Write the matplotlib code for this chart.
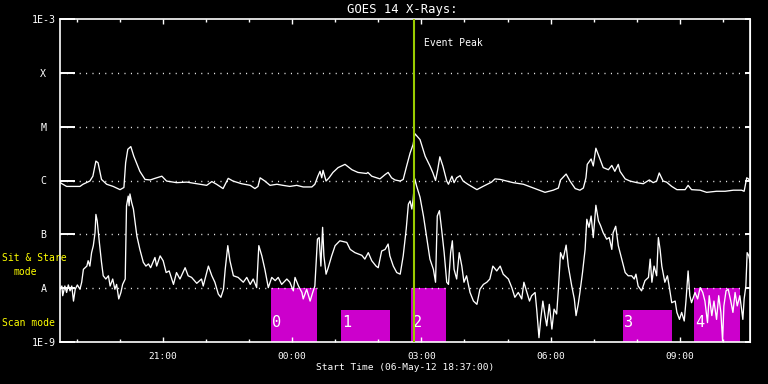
import numpy as np
import matplotlib
matplotlib.use("Agg")
import matplotlib.pyplot as plt

plt.rcParams['lines.scale_dashes'] = False
plt.rcParams['font.family'] = ['DejaVu Sans Mono']

# ---- data (hours relative to 00:00 on 07-May-12; log10 flux in W/m^2) ----
long_t = [-5.38, -5.23, -4.92, -4.85, -4.69, -4.62, -4.55, -4.50, -4.42, -4.30, -4.15, -3.99, -3.90,
          -3.86, -3.81, -3.74, -3.67, -3.53, -3.41, -3.29, -3.18, -3.02, -2.91, -2.68, -2.44, -2.21,
          -1.98, -1.86, -1.75, -1.60, -1.48, -1.37, -1.17, -0.97, -0.86, -0.79, -0.74, -0.63, -0.51,
          -0.35, -0.21, -0.05, 0.11, 0.26, 0.46, 0.53, 0.60, 0.65, 0.69, 0.72, 0.79, 0.86, 0.95, 1.07,
          1.23, 1.39, 1.53, 1.73, 1.76, 1.85, 2.04, 2.16, 2.23, 2.31, 2.39, 2.51, 2.58, 2.66, 2.74,
          2.81, 2.85, 2.97, 3.09, 3.20, 3.27, 3.33, 3.38, 3.43, 3.50, 3.59, 3.63, 3.71, 3.76, 3.82,
          3.90, 3.97, 4.08, 4.29, 4.43, 4.63, 4.71, 4.83, 4.98, 5.13, 5.37, 5.60, 5.87, 6.06, 6.18,
          6.23, 6.36, 6.45, 6.57, 6.68, 6.76, 6.82, 6.85, 6.94, 6.99, 7.05, 7.13, 7.22, 7.34, 7.42,
          7.49, 7.57, 7.61, 7.73, 7.84, 8.00, 8.15, 8.29, 8.38, 8.46, 8.52, 8.61, 8.69, 8.81, 8.93,
          9.12, 9.19, 9.27, 9.47, 9.62, 9.85, 10.05, 10.24, 10.43, 10.49, 10.55, 10.59, 10.63]
long_log = [-6.04, -6.11, -6.11, -6.07, -6.01, -5.92, -5.64, -5.67, -5.98, -6.07, -6.11, -6.17, -6.13,
            -5.67, -5.42, -5.37, -5.55, -5.83, -5.98, -5.99, -5.96, -5.92, -6.01, -6.04, -6.03, -6.06,
            -6.09, -6.02, -6.07, -6.15, -5.96, -6.01, -6.06, -6.09, -6.15, -6.11, -5.95, -6.01, -6.09,
            -6.07, -6.09, -6.11, -6.09, -6.12, -6.12, -6.07, -5.92, -5.83, -5.95, -5.81, -6.01, -5.95,
            -5.85, -5.76, -5.70, -5.80, -5.85, -5.87, -5.85, -5.92, -5.97, -5.89, -5.85, -5.95, -5.99,
            -6.01, -5.98, -5.73, -5.49, -5.33, -5.13, -5.24, -5.55, -5.73, -5.86, -6.00, -5.80, -5.56,
            -5.73, -6.01, -6.07, -5.92, -6.04, -5.95, -5.91, -6.01, -6.07, -6.17, -6.11, -6.03, -5.97,
            -5.98, -6.01, -6.04, -6.07, -6.14, -6.22, -6.18, -6.14, -5.99, -5.88, -6.01, -6.15, -6.18,
            -6.14, -5.95, -5.70, -5.60, -5.73, -5.40, -5.57, -5.76, -5.80, -5.72, -5.83, -5.70, -5.83,
            -5.97, -6.01, -6.04, -6.06, -5.99, -6.04, -6.01, -5.86, -6.01, -6.03, -6.11, -6.17, -6.17,
            -6.09, -6.17, -6.18, -6.22, -6.20, -6.20, -6.18, -6.18, -6.20, -5.95, -5.97, -6.01]

short_t = [-5.38, -5.34, -5.32, -5.27, -5.23, -5.19, -5.15, -5.11, -5.07, -5.03, -4.98, -4.92, -4.88,
           -4.84, -4.76, -4.73, -4.69, -4.65, -4.61, -4.57, -4.55, -4.52, -4.47, -4.42, -4.38, -4.32,
           -4.26, -4.22, -4.16, -4.11, -4.07, -4.02, -3.97, -3.93, -3.87, -3.84, -3.80, -3.78, -3.76,
           -3.72, -3.68, -3.60, -3.53, -3.45, -3.39, -3.33, -3.28, -3.18, -3.14, -3.06, -2.99, -2.92,
           -2.85, -2.75, -2.68, -2.60, -2.48, -2.41, -2.33, -2.21, -2.10, -2.06, -1.94, -1.86, -1.79,
           -1.71, -1.65, -1.59, -1.55, -1.49, -1.44, -1.36, -1.25, -1.13, -1.05, -0.97, -0.90, -0.82,
           -0.77, -0.70, -0.63, -0.55, -0.47, -0.39, -0.32, -0.24, -0.12, -0.05, 0.03, 0.07, 0.15,
           0.23, 0.26, 0.34, 0.42, 0.48, 0.53, 0.59, 0.63, 0.67, 0.71, 0.74, 0.79, 0.84, 0.92, 1.00,
           1.11, 1.27, 1.35, 1.46, 1.62, 1.69, 1.77, 1.85, 1.95, 2.00, 2.08, 2.16, 2.23, 2.27, 2.35,
           2.43, 2.51, 2.58, 2.65, 2.70, 2.74, 2.78, 2.81, 2.85, 2.89, 2.97, 3.05, 3.13, 3.20, 3.28,
           3.33, 3.37, 3.42, 3.47, 3.53, 3.59, 3.63, 3.68, 3.72, 3.76, 3.82, 3.88, 3.94, 3.99, 4.05,
           4.13, 4.21, 4.29, 4.36, 4.44, 4.52, 4.59, 4.66, 4.75, 4.83, 4.90, 5.02, 5.10, 5.17, 5.25,
           5.33, 5.38, 5.45, 5.51, 5.56, 5.64, 5.68, 5.73, 5.77, 5.82, 5.87, 5.91, 5.97, 6.03, 6.08,
           6.14, 6.18, 6.23, 6.29, 6.36, 6.41, 6.49, 6.55, 6.59, 6.64, 6.68, 6.74, 6.80, 6.84, 6.89,
           6.94, 6.99, 7.05, 7.11, 7.16, 7.22, 7.30, 7.36, 7.42, 7.45, 7.51, 7.57, 7.65, 7.73, 7.80,
           7.88, 7.94, 7.98, 8.03, 8.11, 8.19, 8.27, 8.31, 8.35, 8.40, 8.46, 8.50, 8.54, 8.58, 8.65,
           8.71, 8.75, 8.81, 8.89, 8.93, 8.99, 9.04, 9.10, 9.14, 9.19, 9.23, 9.27, 9.35, 9.41, 9.47,
           9.53, 9.58, 9.64, 9.68, 9.74, 9.79, 9.85, 9.90, 9.95, 9.99, 10.02, 10.07, 10.12, 10.18,
           10.23, 10.28, 10.33, 10.39, 10.46, 10.49, 10.53, 10.56, 10.60, 10.63]
short_log = [-8.02, -7.96, -8.14, -7.96, -8.08, -7.94, -8.05, -7.96, -8.24, -8.02, -7.94, -8.02, -7.89,
             -7.65, -7.59, -7.49, -7.59, -7.34, -7.21, -6.97, -6.63, -6.75, -7.15, -7.52, -7.77, -7.83,
             -7.77, -7.96, -7.83, -8.02, -7.93, -8.20, -8.08, -7.93, -7.83, -6.47, -6.29, -6.47, -6.25,
             -6.41, -6.53, -7.03, -7.28, -7.52, -7.59, -7.55, -7.62, -7.43, -7.59, -7.40, -7.49, -7.71,
             -7.68, -7.93, -7.71, -7.83, -7.62, -7.77, -7.80, -7.91, -7.83, -7.96, -7.59, -7.77, -7.89,
             -8.11, -8.17, -8.02, -7.65, -7.21, -7.49, -7.77, -7.80, -7.89, -7.80, -7.93, -7.83, -7.99,
             -7.21, -7.40, -7.65, -7.99, -7.80, -7.86, -7.80, -7.93, -7.83, -7.89, -8.05, -7.80, -7.96,
             -8.08, -8.20, -8.02, -8.24, -8.08, -7.96, -7.09, -7.06, -7.59, -6.87, -7.40, -7.74, -7.62,
             -7.40, -7.21, -7.12, -7.15, -7.28, -7.34, -7.39, -7.46, -7.34, -7.49, -7.59, -7.62, -7.31,
             -7.28, -7.18, -7.40, -7.59, -7.71, -7.74, -7.40, -6.90, -6.44, -6.38, -6.53, -6.35, -5.97,
             -6.10, -6.31, -6.66, -7.09, -7.46, -7.65, -7.89, -6.66, -6.56, -6.90, -7.34, -7.89, -7.93,
             -7.34, -7.12, -7.65, -7.83, -7.34, -7.59, -7.89, -7.77, -8.08, -8.24, -8.30, -8.02, -7.93,
             -7.89, -7.83, -7.59, -7.68, -7.59, -7.74, -7.83, -7.99, -8.17, -8.08, -8.20, -7.89, -8.08,
             -8.24, -8.14, -8.08, -8.42, -8.92, -8.58, -8.24, -8.51, -8.70, -8.30, -8.76, -8.39, -8.48,
             -8.02, -7.34, -7.46, -7.20, -7.59, -7.96, -8.20, -8.51, -8.30, -8.08, -7.71, -7.28, -6.72,
             -6.87, -6.66, -7.06, -6.46, -6.75, -6.84, -6.97, -7.09, -7.06, -7.28, -6.97, -6.85, -7.21,
             -7.46, -7.71, -7.77, -7.77, -7.83, -7.74, -7.96, -8.05, -7.86, -7.80, -7.46, -7.89, -7.59,
             -7.77, -7.06, -7.28, -7.59, -7.89, -7.77, -7.96, -8.27, -8.24, -8.45, -8.58, -8.45, -8.61,
             -8.24, -7.68, -8.14, -8.27, -8.08, -8.20, -7.99, -8.08, -8.24, -8.64, -8.14, -8.51, -8.24,
             -8.58, -8.14, -8.45, -8.98, -8.33, -8.05, -8.02, -8.24, -8.45, -8.08, -8.33, -8.14, -8.58,
             -8.20, -7.96, -7.34, -7.40, -7.52]

# observing-mode intervals (hours), label, top flux
mode_start = [-0.49, 1.14, 2.77, 7.68, 9.33]
mode_end = [0.57, 2.27, 3.57, 8.81, 10.39]
mode_label = ["0", "1", "2", "3", "4"]
mode_top = [1e-8, 3.9e-9, 1e-8, 3.9e-9, 1e-8]

event_peak = 2.83
x_start, x_end = -5.383, 10.626
level_vals = [1e-9, 1e-8, 1e-7, 1e-6, 1e-5, 1e-4, 1e-3]
level_labels = ["1E-9", "A", "B", "C", "M", "X", "1E-3"]
time_ticks = [-3, 0, 3, 6, 9]
time_labels = ["21:00", "00:00", "03:00", "06:00", "09:00"]

PX = 72 / 100.0  # points per pixel at dpi=100

fig = plt.figure(figsize=(7.68, 3.84), dpi=100, facecolor="black")
ax = fig.add_axes([60 / 768, 42 / 384, 690 / 768, 323 / 384], facecolor="black")
ax.set_yscale("log")
ax.set_xlim(x_start, x_end)
ax.set_ylim(1e-9, 1e-3)

# mode bars
for s, e, lab, top in zip(mode_start, mode_end, mode_label, mode_top):
    ax.fill_between([s, e], 1e-9, top, color="#cc00cc", lw=0, zorder=1)
    ax.text(s + 0.03, 2.3e-9, lab, color="white", fontsize=11, ha="left", va="center", zorder=4)

# dotted level lines
for v in level_vals[1:-1]:
    ax.axhline(v, color="white", lw=1 * PX * 1.4, ls=(0, (1.0 * PX, 5.4 * PX)), zorder=2)

ax.plot(long_t, 10 ** np.array(long_log), color="white", lw=0.95, zorder=3)
ax.plot(short_t, 10 ** np.array(short_log), color="white", lw=0.95, zorder=3)

ax.axvline(event_peak, color="#99cc00", lw=1.5, zorder=5)
ax.text(event_peak + 0.24, 10 ** -3.45, "Event Peak", color="white", fontsize=7,
        ha="left", va="center")

for sp in ax.spines.values():
    sp.set_color("white")
    sp.set_linewidth(1.2)

# y axis
ax.set_yticks(level_vals)
ax.set_yticklabels(level_labels)
ax.yaxis.set_minor_locator(matplotlib.ticker.NullLocator())
ax.tick_params(axis="y", which="major", direction="in", length=15 * PX, width=1.4,
               colors="white", labelsize=7.2, pad=12, left=True, right=False)
for t in ax.get_yticklabels():
    t.set_horizontalalignment("center")
sec = ax.secondary_yaxis("right")
sec.set_yticks(level_vals)
sec.set_yticklabels([])
sec.yaxis.set_minor_locator(matplotlib.ticker.NullLocator())
sec.tick_params(axis="y", which="major", direction="in", length=5 * PX, width=1.4, colors="white")
sec.spines["right"].set_color("white")

# x axis
ax.set_xticks(time_ticks)
ax.set_xticklabels(time_labels)
ax.set_xticks(np.arange(-5, 11, 1), minor=True)
ax.tick_params(axis="x", which="major", direction="in", length=5 * PX, width=1, colors="white",
               labelsize=6.8, pad=7, top=True)
ax.tick_params(axis="x", which="minor", direction="in", length=3 * PX, width=1, colors="white",
               top=True)

fig.text(405 / 768, 1 - 368 / 384, "Start Time (06-May-12 18:37:00)", color="white",
         fontsize=6.8, ha="center", va="center")
fig.text(402 / 768, 1 - 10 / 384, "GOES 14 X-Rays:", color="white", fontsize=8.8,
         ha="center", va="center")
fig.text(2 / 768, 1 - 258 / 384, "Sit & Stare", color="yellow", fontsize=7, ha="left", va="center")
fig.text(13 / 768, 1 - 272 / 384, "mode", color="yellow", fontsize=7, ha="left", va="center")
fig.text(2 / 768, 1 - 323 / 384, "Scan mode", color="yellow", fontsize=7, ha="left", va="center")

fig.savefig("out.png", dpi=100, facecolor="black")
